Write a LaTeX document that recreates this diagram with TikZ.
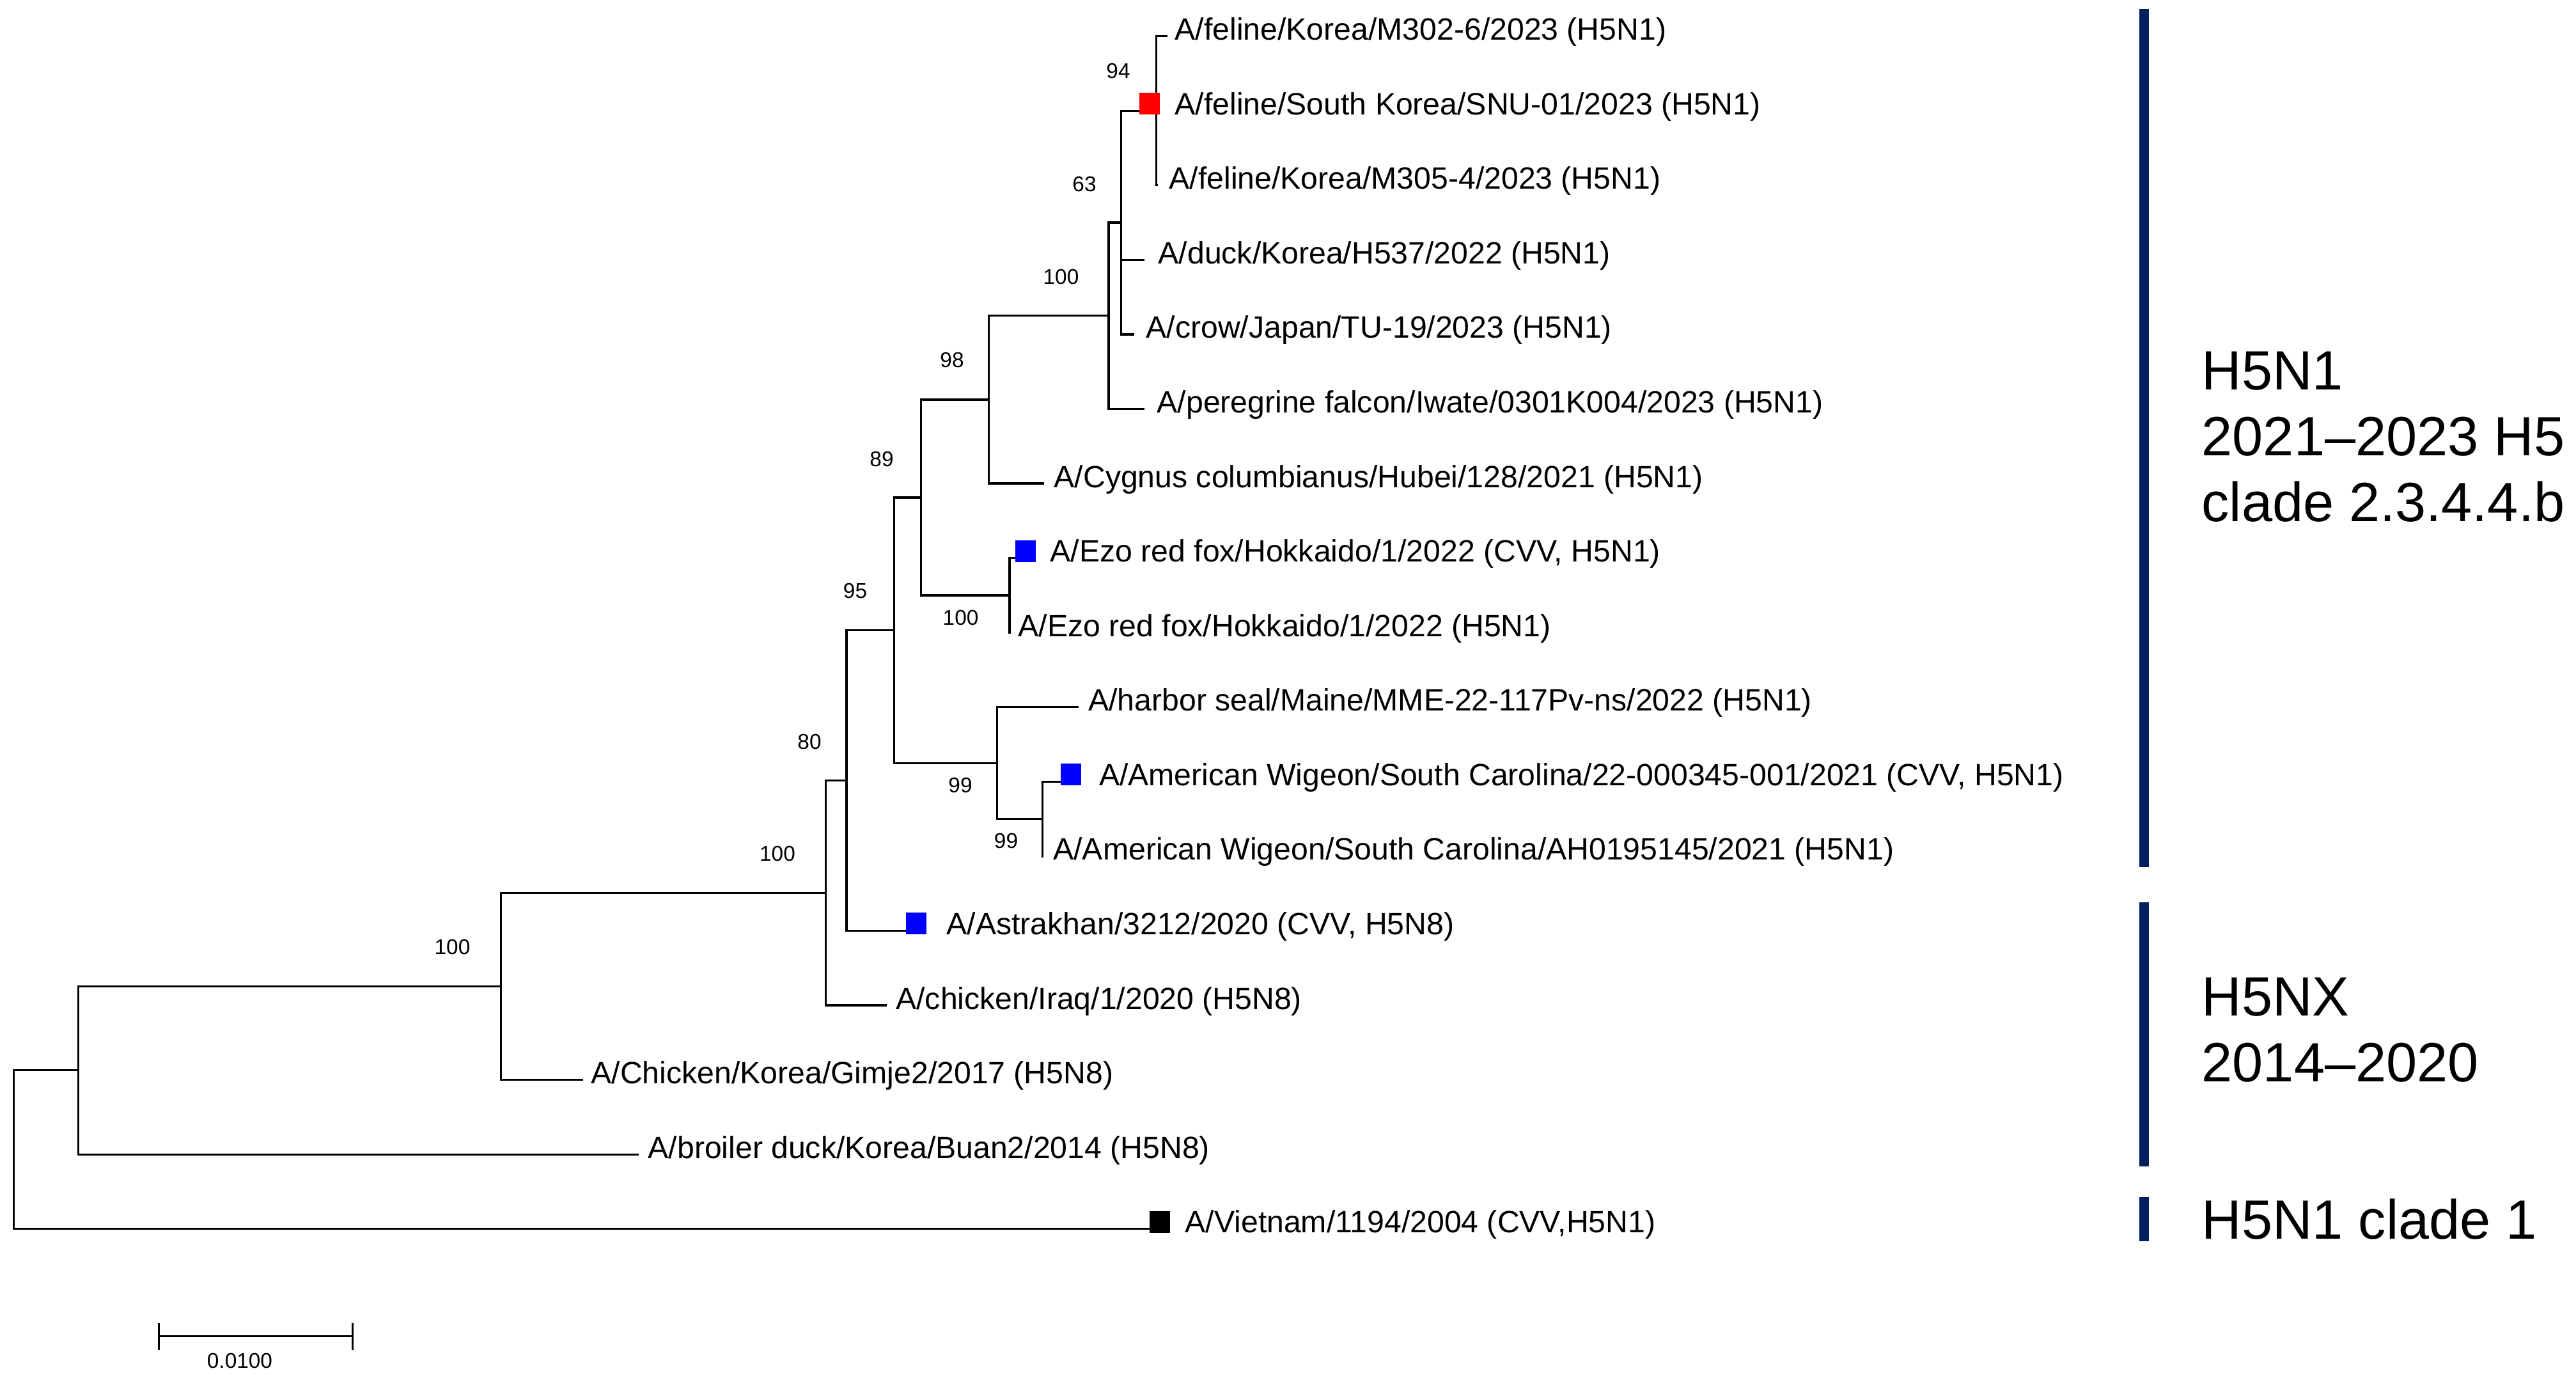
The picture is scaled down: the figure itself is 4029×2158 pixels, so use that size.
\documentclass[tikz,border=0pt]{standalone}
\usepackage{fontspec}
\setmainfont{Liberation Sans}
\usepackage{tikz}
\definecolor{cladeblue}{HTML}{002060}

\begin{document}
\begin{tikzpicture}[
    x=0.01cm, y=-0.01cm,
	leaf/.style={
	  anchor=base west,
	  inner sep=0pt,
	  font=\fontsize{13.7}{16}\selectfont
	},
	boot/.style={
	  inner sep=0pt,
	  font=\fontsize{9.5}{11}\selectfont
	},
	clade/.style={
	  anchor=west,
	  align=left,
	  inner sep=0pt,
	  font=\fontsize{24.6}{29.3}\selectfont
	},
	tipbox/.style={
	  rectangle,
	  inner sep=0pt,
	  minimum width=0.32cm,
	  minimum height=0.34cm
	},
	line/.style={draw, line width=0.95pt},
	cladebar/.style={draw=cladeblue, line width=4.2pt}
	]
	\useasboundingbox (0, 0) rectangle (4029, 2158);
	\coordinate (root) at (21.8, 1797.8);
	\coordinate (nA) at (122.3, 1673.8);
	\coordinate (nB) at (783.4, 1542.4);
	\coordinate (nC) at (1291.6, 1396.2);
	\coordinate (n80) at (1324.1, 1220.5);
	\coordinate (n95) at (1398.8, 985.5);
	\coordinate (nG) at (1559.5, 1193.2);
	\coordinate (nH) at (1630.3, 1280.6);
	\coordinate (n89) at (1440.2, 777.9);
	\coordinate (nEzo) at (1579.1, 930.9);
	\coordinate (n98) at (1546.6, 624.9);
	\coordinate (n100) at (1734, 493.8);
	\coordinate (n63) at (1753.3, 348);
	\coordinate (n94) at (1808.7, 173.2);
	\coordinate (t1) at (1826, 56.6);
	\coordinate (t3) at (1810.5, 289.7);
	\coordinate (t4) at (1790, 406.3);
	\coordinate (t5) at (1774, 522.9);
	\coordinate (t6) at (1790, 639.5);
	\coordinate (t7) at (1632.7, 756);
	\coordinate (t8) at (1588, 872.6);
	\coordinate (t9) at (1581, 989.2);
	\coordinate (t10) at (1687.4, 1105.7);
	\coordinate (t11) at (1659, 1222.3);
	\coordinate (t12) at (1632, 1338.9);
	\coordinate (t13) at (1416.7, 1455.4);
	\coordinate (t14) at (1386.5, 1572);
	\coordinate (t15) at (911.6, 1688.6);
	\coordinate (t16) at (998.5, 1805.2);
	\coordinate (t17) at (1797.7, 1921.7);
	\path[line] (root) |- (nA);
	\path[line] (root) |- (t17);
	\path[line] (nA) |- (nB);
	\path[line] (nA) |- (t16);
	\path[line] (nB) |- (nC);
	\path[line] (nB) |- (t15);
	\path[line] (nC) |- (n80);
	\path[line] (nC) |- (t14);
	\path[line] (n80) |- (n95);
	\path[line] (n80) |- (t13);
	\path[line] (n95) |- (n89);
	\path[line] (n95) |- (nG);
	\path[line] (nG) |- (t10);
	\path[line] (nG) |- (nH);
	\path[line] (nH) |- (t11);
	\path[line] (nH) |- (t12);
	\path[line] (n89) |- (n98);
	\path[line] (n89) |- (nEzo);
	\path[line] (nEzo) |- (t8);
	\path[line] (nEzo) |- (t9);
	\path[line] (n98) |- (n100);
	\path[line] (n98) |- (t7);
	\path[line] (n100) |- (n63);
	\path[line] (n100) |- (t6);
	\path[line] (n63) |- (n94);
	\path[line] (n63) |- (t4);
	\path[line] (n63) |- (t5);
	\path[line] (n94) |- (t1);
	\path[line] (n94) |- (t3);
	\node [tipbox, fill=red] at (1798, 162.2) (snu) {};
	\node [tipbox, fill=blue] at (1604, 861.6) (ezocvv) {};
	\node [tipbox, fill=blue] at (1675, 1211.3) (wigeoncvv) {};
	\node [tipbox, fill=blue] at (1433, 1444.4) (astrakhan) {};
	\node [tipbox, fill=black] at (1813.7, 1910.7) (vietnam) {};
	\node [leaf] at (1837, 62.6) (lab1) {A/feline/Korea/M302-6/2023 (H5N1)};
	\node [leaf] at (1837, 179.2) (lab2) {A/feline/South Korea/SNU-01/2023 (H5N1)};
	\node [leaf] at (1828, 295.7) (lab3) {A/feline/Korea/M305-4/2023 (H5N1)};
	\node [leaf] at (1811, 412.3) (lab4) {A/duck/Korea/H537/2022 (H5N1)};
	\node [leaf] at (1792, 528.9) (lab5) {A/crow/Japan/TU-19/2023 (H5N1)};
	\node [leaf] at (1809, 645.5) (lab6) {A/peregrine falcon/Iwate/0301K004/2023 (H5N1)};
	\node [leaf] at (1648, 762) (lab7) {A/Cygnus columbianus/Hubei/128/2021 (H5N1)};
	\node [leaf] at (1642, 878.6) (lab8) {A/Ezo red fox/Hokkaido/1/2022 (CVV, H5N1)};
	\node [leaf] at (1592, 995.2) (lab9) {A/Ezo red fox/Hokkaido/1/2022 (H5N1)};
	\node [leaf] at (1701.6, 1111.7) (lab10) {A/harbor seal/Maine/MME-22-117Pv-ns/2022 (H5N1)};
	\node [leaf] at (1718.3, 1228.3) (lab11) {A/American Wigeon/South Carolina/22-000345-001/2021 (CVV, H5N1)};
	\node [leaf] at (1646.7, 1344.9) (lab12) {A/American Wigeon/South Carolina/AH0195145/2021 (H5N1)};
	\node [leaf] at (1480, 1461.4) (lab13) {A/Astrakhan/3212/2020 (CVV, H5N8)};
	\node [leaf] at (1400.7, 1578) (lab14) {A/chicken/Iraq/1/2020 (H5N8)};
	\node [leaf] at (923.9, 1694.6) (lab15) {A/Chicken/Korea/Gimje2/2017 (H5N8)};
	\node [leaf] at (1013, 1811.2) (lab16) {A/broiler duck/Korea/Buan2/2014 (H5N8)};
	\node [leaf] at (1853, 1927.7) (lab17) {A/Vietnam/1194/2004 (CVV,H5N1)};
	\node [boot] at (1749, 111) (b94) {94};
	\node [boot] at (1696, 288) (b63) {63};
	\node [boot] at (1659.5, 433.5) (b100) {100};
	\node [boot] at (1489, 563.5) (b98) {98};
	\node [boot] at (1379, 717.5) (b89) {89};
	\node [boot] at (1502.6, 966) (bezo) {100};
	\node [boot] at (1337.5, 924) (b95) {95};
	\node [boot] at (1266, 1160) (b80) {80};
	\node [boot] at (1502, 1228) (bg) {99};
	\node [boot] at (1573.5, 1315) (bh) {99};
	\node [boot] at (1216, 1335) (bc) {100};
	\node [boot] at (707.5, 1481) (bb) {100};
	\coordinate (sbl) at (248.6, 2089.8);
	\coordinate (sbr) at (551.7, 2089.8);
	\path[line] (sbl) -- (sbr);
	\path[line] ([yshift=0.21cm]sbl) -- ([yshift=-0.21cm]sbl);
	\path[line] ([yshift=0.21cm]sbr) -- ([yshift=-0.21cm]sbr);
	\node [boot] at (375, 2128) (scalelab) {0.0100};
	\coordinate (bar1a) at (3353.8, 13.8);
	\coordinate (bar1b) at (3353.8, 1355.6);
	\coordinate (bar2a) at (3353.8, 1410.7);
	\coordinate (bar2b) at (3353.8, 1823.5);
	\coordinate (bar3a) at (3353.8, 1871.7);
	\coordinate (bar3b) at (3353.8, 1940.5);
	\path[cladebar] (bar1a) -- (bar1b);
	\path[cladebar] (bar2a) -- (bar2b);
	\path[cladebar] (bar3a) -- (bar3b);
	\node [clade] at (3443, 683.5) (cladeb) {H5N1\\2021--2023 H5\\clade 2.3.4.4.b};
	\node [clade] at (3443, 1611) (cladenx) {H5NX\\2014--2020};
	\node [clade] at (3443, 1906.6) (cladeone) {H5N1 clade 1};
\end{tikzpicture}
\end{document}
